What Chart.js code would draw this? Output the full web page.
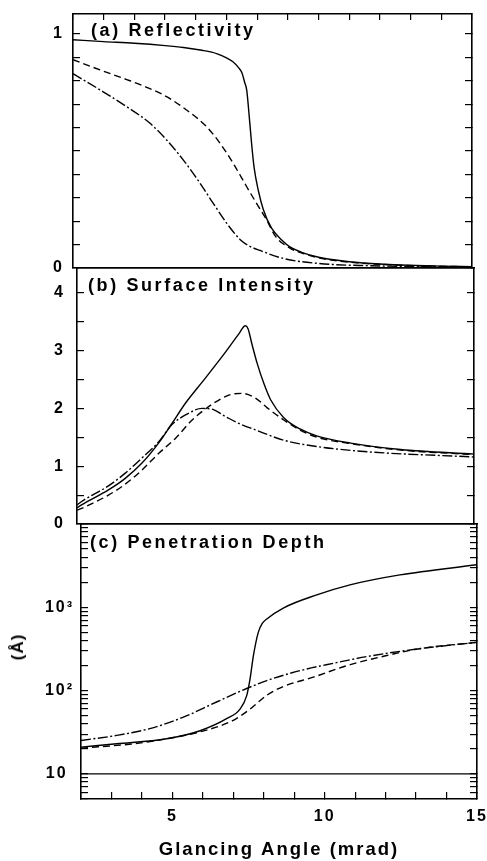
<!DOCTYPE html>
<html>
<head>
<meta charset="utf-8">
<script src="https://cdn.jsdelivr.net/npm/chart.js@4/dist/chart.umd.min.js"></script>
<style>
html,body{margin:0;padding:0;background:#fff;}
#wrap{position:relative;width:487px;height:861px;overflow:hidden;background:#fff;}
.layer{position:absolute;left:0;top:0;width:487px;height:861px;}
.lbl{position:absolute;font-family:'Liberation Sans',Arial,sans-serif;font-weight:bold;color:#000;white-space:nowrap;line-height:20px;font-size:18px;letter-spacing:2.6px;}
</style>
</head>
<body>
<div id="wrap">
  <div class="layer"><canvas id="cA"></canvas></div>
  <div class="layer"><canvas id="cB"></canvas></div>
  <div class="layer"><canvas id="cC"></canvas></div>
  <div class="lbl" style="left:91px;top:20px;">(a) Reflectivity</div>
  <div class="lbl" style="left:88px;top:275px;">(b) Surface Intensity</div>
  <div class="lbl" style="left:90px;top:532px;">(c) Penetration Depth</div>
  <div class="lbl" style="left:18px;top:647px;font-size:17px;letter-spacing:1px;transform:translate(-50%,-50%) rotate(-90deg);">(Å)</div>
</div>
<script>
// ---------- shared x axis ----------
const angleMin = 2, angleMax = 15;
const angleTicks = [2,3,4,5,6,7,8,9,10,11,12,13,14,15];
const angleTickLabels = {5:'5', 10:'10', 15:'15'};
const xAxisTitle = 'Glancing Angle (mrad)';

// ---------- (a) Reflectivity ----------
const reflMin = 0, reflMax = 1.085;
const reflTicks = [0,0.1,0.2,0.3,0.4,0.5,0.6,0.7,0.8,0.9,1];
const reflTickLabels = {0:'0', 1:'1'};
const reflSolidAngle = [2.0,3.0,4.0,5.0,5.6,6.2,6.7,7.0,7.22,7.4,7.5,7.6,7.66,7.74,7.82,7.9,8.04,8.2,8.47,8.8,9.07,9.5,9.94,10.5,11.0,12.0,12.65,14.0,15.0];
const reflSolid      = [0.975,0.967,0.960,0.950,0.942,0.930,0.915,0.898,0.880,0.855,0.835,0.79,0.76,0.65,0.53,0.43,0.33,0.25,0.17,0.12,0.09,0.065,0.048,0.035,0.027,0.017,0.013,0.008,0.006];
const reflDashAngle  = [2.0,2.88,3.75,4.4,5.05,5.7,6.35,6.79,7.22,7.66,7.98,8.31,8.6,9.07,9.5,9.94,11.0,12.65,15.0];
const reflDash       = [0.89,0.846,0.805,0.772,0.732,0.675,0.604,0.533,0.447,0.347,0.276,0.205,0.135,0.085,0.062,0.045,0.025,0.012,0.005];
const reflDotAngle   = [2.0,2.88,3.75,4.51,5.05,5.59,6.14,6.57,7.01,7.22,7.44,7.7,8.09,8.85,9.94,11.57,15.0];
const reflDot        = [0.83,0.761,0.689,0.618,0.547,0.462,0.362,0.276,0.191,0.155,0.122,0.097,0.075,0.041,0.020,0.010,0.005];

// ---------- (b) Surface Intensity ----------
const intMin = 0, intMax = 4.43;
const intTicks = [0,0.5,1,1.5,2,2.5,3,3.5,4];
const intTickLabels = {0:'0', 1:'1', 2:'2', 3:'3', 4:'4'};
const intSolidAngle = [2.0,2.15,3.03,3.58,4.12,4.67,5.11,5.55,6.15,6.8,7.3,7.51,7.6,7.73,7.9,8.12,8.34,8.77,9.32,9.87,10.96,12.6,15.0];
const intSolid      = [0.28,0.33,0.59,0.79,1.05,1.40,1.74,2.09,2.49,2.93,3.29,3.43,3.38,3.11,2.78,2.43,2.15,1.84,1.64,1.52,1.40,1.29,1.21];
const intDashAngle  = [2.0,2.15,3.03,3.58,4.12,4.67,5.22,5.77,6.31,6.97,7.41,7.84,8.23,8.77,9.32,9.87,10.96,12.6,15.0];
const intDash       = [0.24,0.27,0.50,0.69,0.93,1.22,1.48,1.80,2.03,2.23,2.26,2.18,2.01,1.80,1.62,1.50,1.39,1.28,1.20];
const intDotAngle   = [2.0,2.15,3.03,3.58,4.12,4.67,5.11,5.6,6.09,6.4,6.86,7.3,7.84,8.77,9.87,11.51,15.0];
const intDot        = [0.33,0.39,0.66,0.88,1.14,1.42,1.72,1.90,2.00,1.99,1.86,1.74,1.63,1.45,1.34,1.25,1.16];

// ---------- (c) Penetration Depth (Å, log) ----------
const depthMin = 5, depthMax = 10000;
const depthTicks = [5,6,7,8,9,10,20,30,40,50,60,70,80,90,100,200,300,400,500,600,700,800,900,1000,2000,3000,4000,5000,6000,7000,8000,9000,10000];
const depthTickLabels = {10:'10\u00a0', 100:'10²', 1000:'10³'};
const depthSolidAngle = [2.0,3.17,4.81,5.91,6.78,7.22,7.44,7.55,7.66,7.82,7.95,8.10,8.64,9.74,10.83,12.47,15.0];
const depthSolid      = [21,23,26.4,33,46,60,87,138,263,500,640,725,980,1410,1860,2450,3240];
const depthDashAngle  = [2.0,3.72,4.81,5.91,7.0,7.55,8.10,8.64,9.63,10.72,12.0,13.1,15.0];
const depthDash       = [20.4,23,26.4,32,44,60,88,112,145,199,262,318,380];
const depthDotAngle   = [2.0,3.17,4.26,5.36,6.45,7.44,8.10,9.20,10.29,11.38,13.1,15.0];
const depthDot        = [25.2,29,35,48,73,106,132,174,213,256,318,380];
const depthFloorAngle = [2.0,15.0];
const depthFloor      = [10,10];

// ---------- helpers ----------
const FAMILY = "'Liberation Sans', Arial, sans-serif";
const tickFont = {family: FAMILY, size: 16, weight: 'bold'};
const DASHED = [7,4];
const DASHDOT = [10,2.5,2,2.5];

function series(xs, ys, dash) {
  return {
    data: xs.map((x, i) => ({x: x, y: ys[i]})),
    borderColor: '#000', borderWidth: 1.4, borderDash: dash || [],
    pointRadius: 0, fill: false, cubicInterpolationMode: 'monotone', tension: 0
  };
}

const spacingPlugin = {
  id: 'spacing',
  beforeDraw(chart) { try { chart.ctx.letterSpacing = '2px'; } catch (e) {} }
};

function tickList(values) { return s => { s.ticks = values.map(v => ({value: v})); }; }
function noPad(s) { s.paddingLeft = 0; s.paddingRight = 0; s.paddingTop = 0; s.paddingBottom = 0; }

function makePanel(id, p) {
  const W = 487, H = 861;
  const gridOn = {drawOnChartArea: false, drawTicks: true, tickLength: -7, color: '#000', lineWidth: 1.2};
  const gridOff = {display: false};
  const border = {display: true, color: '#000', width: 1.6};
  const yBase = {
    type: p.yType, min: p.yMin, max: p.yMax,
    afterBuildTicks: tickList(p.yTicks),
    grid: gridOn, border: border
  };
  const scales = {
    x: {
      type: 'linear', position: 'bottom', axis: 'x', min: angleMin, max: angleMax,
      afterBuildTicks: tickList(angleTicks),
      grid: p.bottomTicks ? gridOn : gridOff, border: border,
      ticks: {display: !!p.bottomLabels, autoSkip: false, maxRotation: 0, padding: 15,
              font: tickFont, color: '#000', callback: v => (angleTickLabels[v] !== undefined ? angleTickLabels[v] : '')},
      title: p.bottomLabels ? {display: true, text: xAxisTitle, color: '#000',
              font: {family: FAMILY, size: 18.5, weight: 'bold'}, padding: {top: 0, bottom: 0}} : {display: false},
      afterFit: s => { s.height = p.bottomH; noPad(s); }
    },
    xTop: {
      type: 'linear', position: 'top', axis: 'x', min: angleMin, max: angleMax,
      afterBuildTicks: tickList(angleTicks),
      grid: p.topTicks ? Object.assign({}, gridOn, {tickLength: -6}) : gridOff, border: border,
      ticks: {display: false},
      afterFit: s => { s.height = 0; noPad(s); }
    },
    y: Object.assign({}, yBase, {
      position: 'left', axis: 'y',
      ticks: {display: true, autoSkip: false, padding: p.yPad, font: tickFont, color: '#000',
              callback: v => (p.yLabels[v] !== undefined ? p.yLabels[v] : '')},
      afterFit: s => { s.width = p.left; noPad(s); }
    }),
    yR: Object.assign({}, yBase, {
      position: 'right', axis: 'y',
      ticks: {display: false},
      afterFit: s => { s.width = W - p.right; noPad(s); }
    })
  };
  return new Chart(document.getElementById(id), {
    type: 'line',
    data: {datasets: p.datasets},
    options: {
      responsive: true, maintainAspectRatio: false, animation: false,
      layout: {autoPadding: false, padding: {top: p.top, bottom: H - p.bottom - p.bottomH, left: 0, right: 0}},
      plugins: {legend: {display: false}, tooltip: {enabled: false}},
      events: [],
      scales: scales
    },
    plugins: [spacingPlugin]
  });
}

makePanel('cA', {
  top: 14, bottom: 268, left: 73, right: 472, bottomH: 0,
  topTicks: true, bottomTicks: false, bottomLabels: false,
  yType: 'linear', yMin: reflMin, yMax: reflMax, yTicks: reflTicks, yLabels: reflTickLabels, yPad: 16,
  datasets: [series(reflSolidAngle, reflSolid), series(reflDashAngle, reflDash, DASHED), series(reflDotAngle, reflDot, DASHDOT)]
});

makePanel('cB', {
  top: 268, bottom: 524, left: 77, right: 474, bottomH: 0,
  topTicks: false, bottomTicks: false, bottomLabels: false,
  yType: 'linear', yMin: intMin, yMax: intMax, yTicks: intTicks, yLabels: intTickLabels, yPad: 19,
  datasets: [series(intSolidAngle, intSolid), series(intDashAngle, intDash, DASHED), series(intDotAngle, intDot, DASHDOT)]
});

makePanel('cC', {
  top: 524, bottom: 799, left: 81, right: 477, bottomH: 62,
  topTicks: false, bottomTicks: true, bottomLabels: true,
  yType: 'logarithmic', yMin: depthMin, yMax: depthMax, yTicks: depthTicks, yLabels: depthTickLabels, yPad: 14,
  datasets: [series(depthSolidAngle, depthSolid), series(depthDashAngle, depthDash, DASHED),
             series(depthDotAngle, depthDot, DASHDOT), series(depthFloorAngle, depthFloor)]
});
</script>
</body>
</html>
